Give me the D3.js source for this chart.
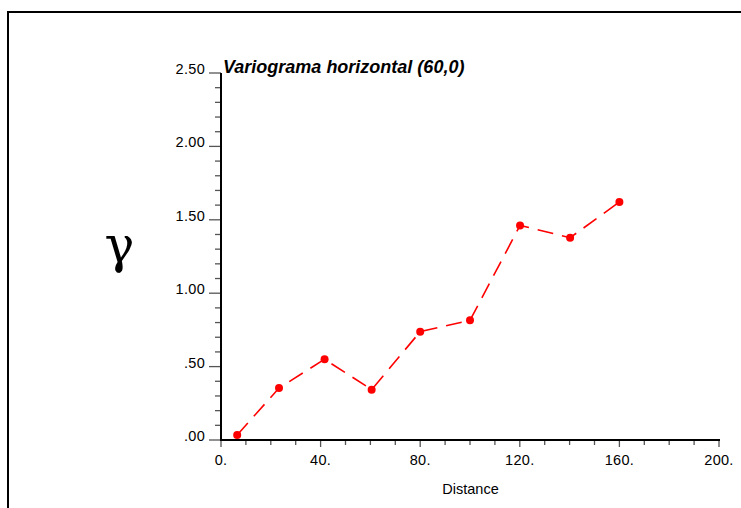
<!DOCTYPE html>
<html><head><meta charset="utf-8">
<script src="https://cdn.jsdelivr.net/npm/d3@7"></script>
<style>body{margin:0;background:#fff}svg{display:block}</style>
</head><body>
<svg id="c" width="741" height="508"></svg>
<script>
const lagDistance = [6.5, 23.3, 41.6, 60.5, 80, 100, 120.1, 140.2, 160];
const gammaValue = [0.034, 0.354, 0.55, 0.343, 0.738, 0.815, 1.462, 1.378, 1.621];
const xTickValues = [0, 40, 80, 120, 160, 200];
const xTickLabels = ["0.", "40.", "80.", "120.", "160.", "200."];
const yTickValues = [0, 0.5, 1, 1.5, 2, 2.5];
const yTickLabels = [".00", ".50", "1.00", "1.50", "2.00", "2.50"];
const titleText = "Variograma horizontal (60,0)";
const xTitle = "Distance";
const yTitle = "γ";

const svg = d3.select("#c");
svg.append("rect").attr("x", 8).attr("y", 12).attr("width", 800).attr("height", 600)
  .attr("fill", "none").attr("stroke", "#000").attr("stroke-width", 2);

const x = d3.scaleLinear().domain([0, 200]).range([221, 719]);
const y = d3.scaleLinear().domain([0, 2.5]).range([440, 73]);

const font = "Liberation Sans, Arial, Helvetica, sans-serif";

// minor ticks
const xMinor = d3.range(0, 201, 10);
const yMinor = d3.range(0, 2.501, 0.1);
svg.append("g").selectAll("line").data(xMinor).join("line")
  .attr("x1", d => x(d)).attr("x2", d => x(d))
  .attr("y1", 440).attr("y2", d => xTickValues.includes(d) ? 447 : 445)
  .attr("stroke", "#555").attr("stroke-width", 1.3);
svg.append("g").selectAll("line").data(yMinor).join("line")
  .attr("y1", d => y(d)).attr("y2", d => y(d))
  .attr("x1", d => yTickValues.some(v => Math.abs(v - d) < 1e-6) ? 209 : 215).attr("x2", 221)
  .attr("stroke", "#555").attr("stroke-width", 1.3);

// axes lines
svg.append("line").attr("x1", 221).attr("x2", 221).attr("y1", 73).attr("y2", 440)
  .attr("stroke", "#000").attr("stroke-width", 2);
svg.append("line").attr("x1", 220).attr("x2", 720).attr("y1", 440).attr("y2", 440)
  .attr("stroke", "#000").attr("stroke-width", 2);

// tick labels
svg.append("g").selectAll("text").data(xTickValues).join("text")
  .attr("x", d => x(d)).attr("y", 465).attr("text-anchor", "middle")
  .attr("font-family", font).attr("font-size", 14.5).attr("letter-spacing", 0.3)
  .attr("fill", "#000").text((d, i) => xTickLabels[i]);
svg.append("g").selectAll("text").data(yTickValues).join("text")
  .attr("x", 205).attr("y", d => y(d) + 1).attr("text-anchor", "end")
  .attr("font-family", font).attr("font-size", 14.5).attr("letter-spacing", 0.3)
  .attr("fill", "#000").text((d, i) => yTickLabels[i]);

// titles
svg.append("text").attr("x", 223).attr("y", 73)
  .attr("font-family", font).attr("font-size", 18)
  .attr("font-weight", "bold").attr("font-style", "italic").text(titleText);
svg.append("text").attr("x", 470.5).attr("y", 494).attr("text-anchor", "middle")
  .attr("font-family", font).attr("font-size", 14.5)
  .text(xTitle);
svg.append("text").attr("x", 119.5).attr("y", 262).attr("text-anchor", "middle")
  .attr("font-family", "DejaVu Serif, Liberation Serif, serif").attr("font-size", 50)
  .text(yTitle);

// data
const pts = lagDistance.map((d, i) => [d, gammaValue[i]]);
svg.append("path").datum(pts)
  .attr("d", d3.line().x(d => x(d[0])).y(d => y(d[1])))
  .attr("fill", "none").attr("stroke", "#ff0000").attr("stroke-width", 1.6)
  .attr("stroke-dasharray", "16,9");
svg.append("g").selectAll("circle").data(pts).join("circle")
  .attr("cx", d => x(d[0])).attr("cy", d => y(d[1])).attr("r", 4)
  .attr("fill", "#ff0000");
</script>
</body></html>
